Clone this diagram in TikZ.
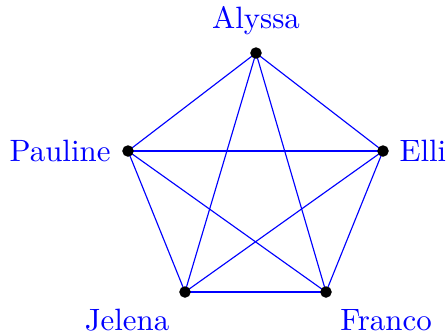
\documentclass[tikz,border=0pt]{standalone}
\usetikzlibrary{backgrounds}
\begin{document}
\begin{tikzpicture}[x=0.35pt,y=-0.35pt,
  vtx/.style={circle,fill=black,draw=black,inner sep=0pt,minimum size=3.6pt},
  lbl/.style={text=blue,inner sep=0pt,font=\fontsize{10.8}{13}\selectfont},
  edge/.style={blue,line width=0.4pt}]
\useasboundingbox (0,0) rectangle (448,334);
\node[vtx] (A) at (256,53) {};
\node[vtx] (E) at (383,151) {};
\node[vtx] (F) at (326,292) {};
\node[vtx] (J) at (185,292) {};
\node[vtx] (P) at (128,151) {};
\node[lbl] (lA) at (256,21) {Alyssa};
\node[lbl,anchor=west] (lE) at (399,151) {Elli};
\node[lbl] (lF) at (386,320) {Franco};
\node[lbl] (lJ) at (127,320) {Jelena};
\node[lbl,anchor=east] (lP) at (111,151) {Pauline};
\begin{pgfonlayer}{background}
\foreach \a/\b in {A/E,A/F,A/J,A/P,E/F,E/J,E/P,F/J,F/P,J/P}
  \draw[edge] (\a.center) -- (\b.center);
\end{pgfonlayer}
\end{tikzpicture}
\end{document}
